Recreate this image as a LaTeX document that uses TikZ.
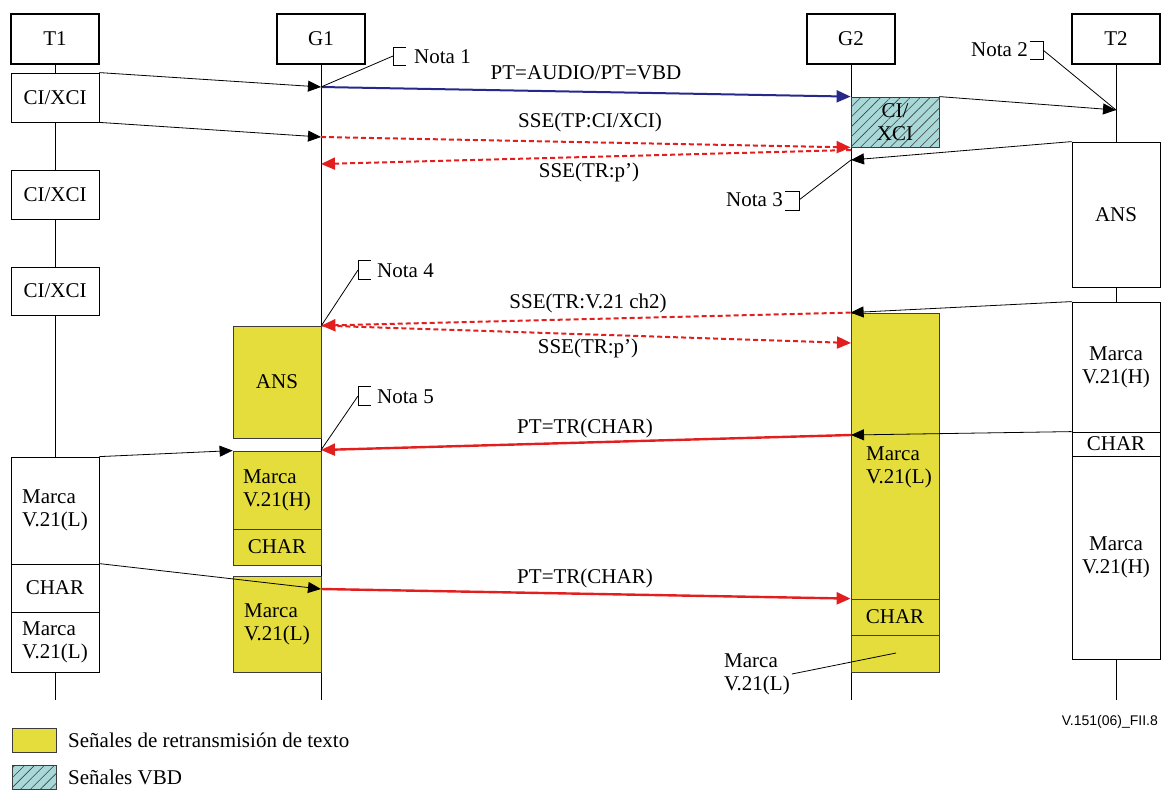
\documentclass[tikz,border=0pt]{standalone}
\usepackage{fontspec}
\setmainfont{Liberation Serif}
\newfontfamily\labsans{Liberation Sans}
\usetikzlibrary{arrows.meta,patterns.meta}
\definecolor{ylw}{RGB}{228,221,60}
\definecolor{tealv}{RGB}{169,216,216}
\definecolor{navyv}{RGB}{40,40,140}
\definecolor{redv}{RGB}{226,30,30}
\definecolor{edgev}{RGB}{60,60,60}
% style, name, x1, y1, x2, y2, text
\newcommand\mybox[7]{%
  \pgfmathsetmacro\mbw{#5-#3}\pgfmathsetmacro\mbh{#6-#4}%
  \pgfmathsetmacro\mbx{(#3+#5)/2}\pgfmathsetmacro\mby{(#4+#6)/2}%
  \node[#1, minimum width=\mbw pt, minimum height=\mbh pt] (#2) at (\mbx,\mby) {#7};}
\begin{document}
\begin{tikzpicture}[x=1pt,y=-1pt,
  font=\fontsize{21}{23}\selectfont,
  head/.style={draw, line width=2.4pt, inner sep=0pt, fill=white},
  box/.style={draw, line width=0.8pt, inner sep=0pt, fill=white, align=center},
  lbox/.style={box, align=left},
  ybox/.style={box, fill=ylw, draw=edgev},
  hbox/.style={box, fill=tealv, draw=edgev, postaction={pattern={Lines[angle=45,distance=7pt,line width=0.6pt]}, pattern color=black!75}},
  life/.style={line width=0.8pt},
  msg/.style={line width=0.8pt, -{Triangle[length=13pt,width=11pt]}},
  bluemsg/.style={line width=2pt, draw=navyv, -{Triangle[length=14pt,width=12pt]}, navyv},
  rdash/.style={line width=2pt, draw=redv, dash pattern=on 5pt off 3pt, -{Triangle[length=14pt,width=12pt]}, redv},
  rsolid/.style={line width=2.4pt, draw=redv, -{Triangle[length=14pt,width=12pt]}, redv},
  lead/.style={line width=0.8pt},
  brk/.style={line width=0.8pt},
  lbl/.style={inner sep=0pt},
  note/.style={inner sep=0pt, anchor=west}
]
\useasboundingbox (0,0) rectangle (1162,790);

% headers
\mybox{head}{t1h}{11}{14}{99}{64}{T1}
\mybox{head}{g1h}{277}{14}{365}{64}{G1}
\mybox{head}{g2h}{807}{14}{895}{64}{G2}
\mybox{head}{t2h}{1072}{14}{1160}{64}{T2}

% lifeline ends
\coordinate (t1end) at (55,700);
\coordinate (g1end) at (321,700);
\coordinate (g2end) at (851,700);
\coordinate (t2end) at (1116,700);
\draw[life] (t1h.south) -- (t1h.south |- t1end);
\draw[life] (g1h.south) -- (g1h.south |- g1end);
\draw[life] (g2h.south) -- (g2h.south |- g2end);
\draw[life] (t2h.south) -- (t2h.south |- t2end);

% T1 boxes
\mybox{box}{t1a}{11}{73}{99}{122}{CI/XCI}
\mybox{box}{t1b}{11}{170}{99}{219}{CI/XCI}
\mybox{box}{t1c}{11}{267}{99}{315}{CI/XCI}
\mybox{lbox}{t1d}{11}{457}{99}{564}{Marca\\V.21(L)}
\mybox{box}{t1e}{11}{564}{99}{612}{CHAR}
\mybox{lbox}{t1f}{11}{612}{99}{672}{Marca\\V.21(L)}

% G1 boxes
\mybox{ybox}{g1ans}{233}{326}{321}{438}{ANS}
\mybox{ybox,align=left}{g1m}{233}{451}{321}{529}{Marca\\V.21(H)}
\mybox{ybox}{g1c}{233}{529}{321}{565}{CHAR}
\mybox{ybox,align=left}{g1l}{233}{576}{321}{672}{Marca\\V.21(L)}

% G2 boxes
\mybox{hbox}{g2x}{851}{97}{939}{147}{CI/\\XCI}
\mybox{ybox}{g2big}{851}{313}{939}{599}{}
\node[lbl, align=left] (g2bigt) at (899,467) {Marca\\V.21(L)};
\mybox{ybox}{g2c}{851}{599}{939}{635}{CHAR}
\mybox{ybox}{g2e}{851}{635}{939}{672}{}

% T2 boxes
\mybox{box}{t2ans}{1072}{142}{1160}{287}{ANS}
\mybox{box}{t2m}{1072}{302}{1160}{432}{Marca\\V.21(H)}
\mybox{box}{t2c}{1072}{432}{1160}{456}{CHAR}
\mybox{box}{t2m2}{1072}{456}{1160}{659}{Marca\\V.21(H)}

% lifeline points
\coordinate (g1p1) at (321,87);
\coordinate (g1p2) at (321,137);
\coordinate (g1p3) at (321,164);
\coordinate (g1p5) at (321,450);
\coordinate (g1p6) at (321,589);
\coordinate (g2p1) at (851,150);
\coordinate (g2p2) at (851,160);
\coordinate (g2p3) at (851,343);
\coordinate (g2p4) at (851,435);
\coordinate (t2p1) at (1116,110);

% black messages
\draw[msg] (t1a.north east) -- (g1p1);
\draw[msg] (t1a.south east) -- (g1p2);
\draw[msg] (g2x.north east) -- (t2p1);
\draw[msg] (t2ans.north west) -- (g2p2);
\draw[msg] (t2m.north west) -- (g2big.north west);
\draw[msg] (t2c.north west) -- (g2p4);
\draw[msg] (t1d.north east) -- (g1m.north west);
\draw[msg] (t1e.north east) -- (g1p6);

% coloured messages
\draw[bluemsg] (g1p1) -- (g2x.north west);
\draw[rdash] (g1p2) -- (g2x.south west);
\draw[rdash] (g2p1) -- (g1p3);
\draw[rdash] (g2big.north west) -- (g1ans.north east);
\draw[rdash] (g1ans.north east) -- (g2p3);
\draw[rsolid] (g2p4) -- (g1p5);
\draw[rsolid] (g1p6) -- (g2c.north west);

% message labels
\node[lbl] (l1) at (586,73) {PT=AUDIO/PT=VBD};
\node[lbl] (l2) at (590,122) {SSE(TP:CI/XCI)};
\node[lbl] (l3) at (589,172) {SSE(TR:p')};
\node[lbl] (l4) at (588,303) {SSE(TR:V.21 ch2)};
\node[lbl] (l5) at (588,348) {SSE(TR:p')};
\node[lbl] (l6) at (585,428) {PT=TR(CHAR)};
\node[lbl] (l7) at (585,578) {PT=TR(CHAR)};

% notes
\draw[brk] (406,47) -- (393,47) -- (393,65) -- (406,65);
\coordinate (n1b) at (393,56);
\node[note] (n1) at (414,57) {Nota 1};
\draw[lead] (g1p1) -- (n1b);

\draw[brk] (1030,41) -- (1043,41) -- (1043,59) -- (1030,59);
\coordinate (n2b) at (1043,50);
\node[note, anchor=east] (n2) at (1028,50) {Nota 2};
\draw[lead] (n2b) -- (t2p1);

\draw[brk] (785,191) -- (799,191) -- (799,210) -- (785,210);
\coordinate (n3b) at (799,200);
\node[note, anchor=east] (n3) at (783,200) {Nota 3};
\draw[lead] (n3b) -- (g2p2);

\draw[brk] (371,260) -- (358,260) -- (358,279) -- (371,279);
\coordinate (n4b) at (358,270);
\node[note] (n4) at (377,271) {Nota 4};
\draw[lead] (g1ans.north east) -- (n4b);

\draw[brk] (371,386) -- (358,386) -- (358,405) -- (371,405);
\coordinate (n5b) at (358,396);
\node[note] (n5) at (377,397) {Nota 5};
\draw[lead] (g1p5) -- (n5b);

% note under G2
\node[lbl, align=left, anchor=west] (g2n) at (724,674) {Marca\\V.21(L)};
\coordinate (g2np) at (896,653);
\draw[lead] ([xshift=2pt]g2n.east) -- (g2np);

% legend
\mybox{ybox}{lg1}{12}{728}{56}{752}{}
\node[note] (lg1t) at (68,740) {Señales de retransmisión de texto};
\mybox{hbox}{lg2}{12}{765}{56}{789}{}
\node[note] (lg2t) at (68,777) {Señales VBD};

\node[lbl, anchor=east, font=\labsans\fontsize{14}{16}\selectfont] (sig) at (1158,722) {V.151(06)\_FII.8};
\end{tikzpicture}
\end{document}
